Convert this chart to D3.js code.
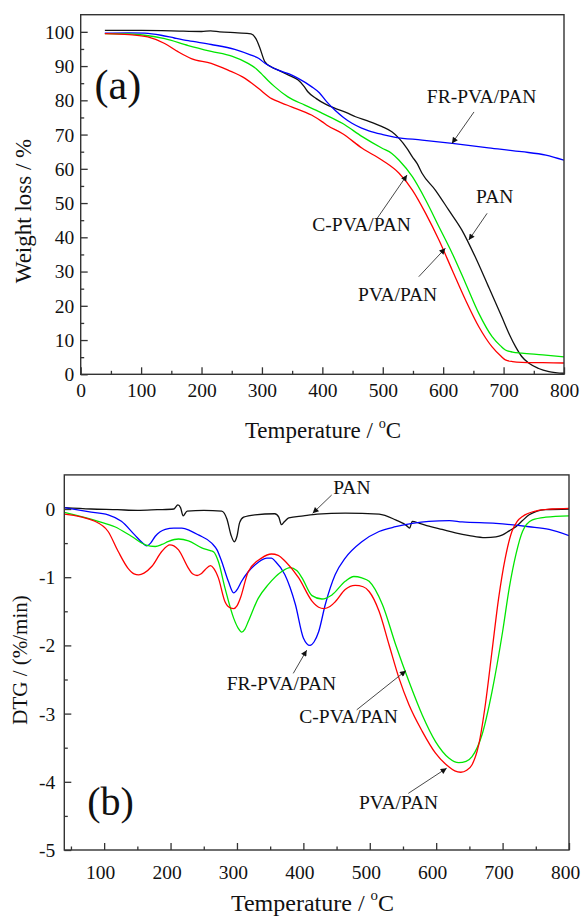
<!DOCTYPE html>
<html><head><meta charset="utf-8">
<script src="https://cdn.jsdelivr.net/npm/d3@7"></script>
<style>body{margin:0;background:#fff}svg{display:block}text{font-family:"Liberation Serif","Times New Roman",serif;fill:#111}</style>
</head><body><svg id="c" width="582" height="916"></svg>
<script>
// ---------- DATA ----------
// (a) TGA: [Temperature °C, Weight %]
const tgaPAN = [[40,100.4],[100,100.4],[150,100.3],[200,100.1],[215,100.3],[230,100],[260,99.7],[282,99.4],[290,98],[296,95.6],[305,91.2],[315,89.8],[327,88.8],[345,87.3],[360,85.9],[370,84],[376,82.5],[390,80.5],[406,78.8],[422,77.6],[440,76.4],[455,75.2],[475,74],[499,72.3],[515,70.8],[527,68.9],[540,66],[549,63.5],[557,61.5],[565,58.7],[587,53.8],[609,48],[631,42.1],[653,34.3],[675,25.6],[697,16.8],[710,11.5],[720,8],[730,5.2],[742,3.2],[758,1.7],[775,0.8],[800,0.3]];
const tgaFR = [[40,99.6],[80,99.7],[106,99.6],[133,99],[155,98.2],[178,97.4],[216,96.3],[255,94.9],[282,93.2],[295,92.2],[305,90.8],[327,88.8],[345,87.7],[360,86.4],[382,84],[395,82.2],[407,79.6],[421,77.1],[435,75],[449,73.3],[465,71.9],[477,71.1],[500,70],[521,69.2],[565,68.4],[615,67.4],[675,66.1],[730,65],[770,64],[800,62.5]];
const tgaC = [[40,99.5],[80,99.4],[106,99],[139,98],[178,96],[216,94.3],[250,92.9],[277,90.8],[290,89.3],[299,87.8],[310,85.8],[321,84],[343,81],[371,78.6],[400,76.2],[433,73.3],[466,69.4],[499,66],[515,64.5],[527,62.5],[549,57.7],[571,50.9],[593,43.1],[615,35.3],[637,26.6],[659,17.8],[681,11],[695,8.3],[703,7.1],[715,6.5],[730,6.2],[765,5.7],[800,5.1]];
const tgaPVA = [[40,99.5],[80,99.2],[111,98.5],[139,96.6],[161,94.2],[183,92.2],[216,90.8],[244,88.8],[272,86.4],[294,83.5],[316,80.5],[333,79.2],[349,78.1],[382,75.7],[400,73.7],[407,72.8],[433,70.3],[466,66],[499,62.5],[527,58.7],[549,53.8],[571,47],[593,39.2],[615,30.4],[637,21.7],[659,13.9],[681,8],[695,5.4],[703,4.2],[715,3.7],[730,3.5],[765,3.4],[800,3.3]];
// (b) DTG: [Temperature °C, DTG %/min]
const dtgPAN = [[40,0.02],[80,0],[120,-0.01],[150,-0.02],[180,-0.01],[205,0],[211,0.06],[215,0.02],[219,-0.1],[225,-0.03],[250,-0.02],[277,-0.03],[285,-0.15],[291,-0.38],[296,-0.48],[300,-0.4],[304,-0.2],[310,-0.12],[327,-0.085],[357,-0.07],[363,-0.12],[367,-0.23],[372,-0.18],[378,-0.13],[400,-0.1],[421,-0.075],[463,-0.06],[514,-0.075],[539,-0.16],[555,-0.24],[560,-0.28],[564,-0.18],[575,-0.21],[589,-0.25],[609,-0.3],[629,-0.35],[650,-0.39],[674,-0.42],[690,-0.41],[700,-0.38],[710,-0.32],[720,-0.26],[730,-0.17],[740,-0.085],[752,-0.03],[765,-0.01],[800,0]];
const dtgFR = [[40,0.02],[76,-0.04],[106,-0.085],[126,-0.18],[146,-0.38],[158,-0.5],[164,-0.54],[170,-0.5],[177,-0.4],[192,-0.3],[205,-0.28],[217,-0.28],[230,-0.32],[242,-0.38],[262,-0.5],[270,-0.6],[277,-0.77],[287,-1.06],[295,-1.23],[301,-1.17],[307,-1.06],[317,-0.92],[327,-0.82],[345,-0.72],[352,-0.72],[358,-0.77],[372,-0.96],[380,-1.15],[388,-1.4],[400,-1.89],[410,-2.0],[416,-1.95],[423,-1.8],[433,-1.4],[448,-0.96],[463,-0.72],[488,-0.48],[514,-0.33],[539,-0.26],[564,-0.21],[589,-0.18],[620,-0.17],[639,-0.19],[690,-0.21],[740,-0.26],[770,-0.3],[800,-0.39]];
const dtgPVA = [[40,-0.075],[86,-0.18],[106,-0.33],[121,-0.62],[136,-0.87],[145,-0.95],[152,-0.965],[160,-0.94],[172,-0.84],[187,-0.62],[199,-0.525],[205,-0.54],[212,-0.6],[227,-0.87],[233,-0.95],[240,-0.975],[246,-0.95],[252,-0.89],[260,-0.83],[265,-0.87],[272,-1.01],[282,-1.36],[290,-1.45],[295,-1.46],[300,-1.42],[305,-1.31],[317,-0.92],[337,-0.72],[352,-0.66],[362,-0.68],[373,-0.77],[393,-1.01],[413,-1.35],[423,-1.44],[431,-1.46],[440,-1.43],[448,-1.36],[463,-1.18],[478,-1.12],[490,-1.14],[499,-1.21],[514,-1.5],[529,-1.99],[544,-2.48],[559,-2.87],[579,-3.26],[599,-3.58],[619,-3.78],[628,-3.84],[637,-3.86],[646,-3.83],[654,-3.75],[664,-3.46],[674,-2.87],[684,-2.09],[694,-1.31],[704,-0.72],[714,-0.33],[722,-0.18],[730,-0.11],[750,-0.03],[775,0.0],[800,0.01]];
const dtgC = [[40,-0.05],[91,-0.18],[116,-0.26],[141,-0.4],[162,-0.525],[177,-0.55],[187,-0.52],[197,-0.475],[212,-0.44],[227,-0.466],[247,-0.57],[260,-0.61],[265,-0.63],[272,-0.77],[282,-1.16],[295,-1.6],[302,-1.75],[307,-1.805],[312,-1.76],[317,-1.65],[332,-1.31],[347,-1.11],[367,-0.92],[380,-0.86],[390,-0.9],[398,-1.01],[413,-1.27],[428,-1.32],[443,-1.26],[463,-1.06],[476,-0.99],[488,-1.01],[499,-1.06],[519,-1.4],[539,-1.99],[559,-2.53],[579,-3.02],[599,-3.41],[619,-3.65],[634,-3.72],[645,-3.7],[654,-3.63],[669,-3.31],[684,-2.68],[700,-1.8],[710,-1.16],[720,-0.67],[730,-0.33],[745,-0.16],[765,-0.12],[800,-0.1]];
// ticks / labels
const topXTicks = [0,100,200,300,400,500,600,700,800];
const topYTicks = [0,10,20,30,40,50,60,70,80,90,100];
const botXTicks = [100,200,300,400,500,600,700,800];
const botYTicks = [-5,-4,-3,-2,-1,0];
const botYLabels = ["-5","-4","-3","-2","-1","0"];
const seriesNames = ["PAN","FR-PVA/PAN","C-PVA/PAN","PVA/PAN"];
const seriesColors = ["#111111","#0000ff","#00e600","#ff0000"];
// annotations: [label, textT, textV, arrowFromT, arrowFromV, arrowToT, arrowToV]
const annTop = [["FR-PVA/PAN",573,79.3,651,76.6,614.5,67.4],["PAN",654.5,50.1,672.7,47,642.4,39.2],["C-PVA/PAN",383.4,41.9,490.6,45.5,540.2,58.2],["PVA/PAN",459.1,21.4,559.6,28.5,603.6,36.8]];
const annBot = [["PAN",445,0.22,442.6,0.205,414,-0.063],["FR-PVA/PAN",284.5,-2.65,384.8,-2.41,405,-2.07],["C-PVA/PAN",393.9,-3.14,480.3,-2.945,554.5,-2.37],["PVA/PAN",483.8,-4.40,558,-4.17,615.8,-3.80]];

// ---------- DRAW ----------
const svg = d3.select("#c");
const defs = svg.append("defs");
defs.append("marker").attr("id","ah").attr("viewBox","0 0 10 10").attr("refX",10).attr("refY",5)
  .attr("markerWidth",9).attr("markerHeight",6).attr("markerUnits","userSpaceOnUse").attr("orient","auto")
  .append("path").attr("d","M0,0L10,5L0,10z").attr("fill","#111");

function panel(cfg){
  const {x,y,xMajor,xMinor,yMajor,yMinor,yLabels,series,ann,tag,tagPos,xLabOff,xLabDx,yLabOff,xTitle,yTitle} = cfg;
  const g = svg.append("g");
  const [x0,x1]=x.range(), [y0,y1]=y.range();
  const line = d3.line().x(d=>x(d[0])).y(d=>y(d[1])).curve(d3.curveMonotoneX);
  const clipId = "clip"+tag.replace(/\W/g,"");
  defs.append("clipPath").attr("id",clipId).append("rect").attr("x",x0).attr("y",y1).attr("width",x1-x0).attr("height",y0-y1);
  series.forEach((s,i)=>{
    g.append("path").attr("d",line(s)).attr("fill","none").attr("stroke",seriesColors[i]).attr("stroke-width",1.3).attr("clip-path",`url(#${clipId})`);
  });
  // frame
  g.append("rect").attr("x",x0).attr("y",y1).attr("width",x1-x0).attr("height",y0-y1).attr("fill","none").attr("stroke","#333").attr("stroke-width",1.4);
  // axes with inward ticks
  const ax = g.append("g").attr("transform",`translate(0,${y0})`).call(d3.axisBottom(x).tickValues(xMajor).tickSize(-7).tickFormat(d=>d));
  ax.select(".domain").remove();
  ax.selectAll(".tick line").attr("stroke","#333").attr("stroke-width",1.3);
  ax.selectAll(".tick text").attr("font-size",19.5).attr("y",xLabOff).attr("dy",0).attr("dx",xLabDx).attr("font-family","Liberation Serif");
  const axm = g.append("g").attr("transform",`translate(0,${y0})`).call(d3.axisBottom(x).tickValues(xMinor).tickSize(-3.5).tickFormat(""));
  axm.select(".domain").remove(); axm.selectAll(".tick line").attr("stroke","#333").attr("stroke-width",1.3);
  const ay = g.append("g").attr("transform",`translate(${x0},0)`).call(d3.axisLeft(y).tickValues(yMajor).tickSize(-7).tickFormat((d,i)=>yLabels[i]));
  ay.select(".domain").remove();
  ay.selectAll(".tick line").attr("stroke","#333").attr("stroke-width",1.3);
  ay.selectAll(".tick text").attr("font-size",19.5).attr("x",-yLabOff).attr("dy","0.33em").attr("font-family","Liberation Serif");
  const aym = g.append("g").attr("transform",`translate(${x0},0)`).call(d3.axisLeft(y).tickValues(yMinor).tickSize(-3.5).tickFormat(""));
  aym.select(".domain").remove(); aym.selectAll(".tick line").attr("stroke","#333").attr("stroke-width",1.3);
  // annotations
  ann.forEach(a=>{
    g.append("text").attr("x",x(a[1])).attr("y",y(a[2])).attr("font-size",19.5).text(a[0]);
    g.append("line").attr("x1",x(a[3])).attr("y1",y(a[4])).attr("x2",x(a[5])).attr("y2",y(a[6]))
      .attr("stroke","#333").attr("stroke-width",0.9).attr("marker-end","url(#ah)");
  });
  g.append("text").attr("x",x(tagPos[0])).attr("y",y(tagPos[1])).attr("font-size",cfg.tagSize).text(tag);
  // titles
  const xt = g.append("text").attr("x",xTitle[0]).attr("y",xTitle[1]).attr("text-anchor","middle").attr("font-size",xTitle[2]);
  xt.append("tspan").text("Temperature / ");
  xt.append("tspan").attr("font-size",xTitle[2]*0.62).attr("dy",-xTitle[2]*0.45).text("o");
  xt.append("tspan").attr("dy",xTitle[2]*0.45).text("C");
  g.append("text").attr("transform",`translate(${yTitle[0]},${yTitle[1]}) rotate(-90)`).attr("text-anchor","middle").attr("font-size",yTitle[2]).text(yTitle[3]);
}

const xTop = d3.scaleLinear().domain([0,800]).range([80.7,564]);
const yTop = d3.scaleLinear().domain([0,105]).range([374.3,14.7]);
panel({x:xTop,y:yTop,xMajor:topXTicks,xMinor:d3.range(50,800,100),yMajor:topYTicks,yMinor:d3.range(5,105,10),
  yLabels:topYTicks.map(String),series:[tgaPAN,tgaFR,tgaC,tgaPVA],ann:annTop,tag:"(a)",tagPos:[23,80.3],tagSize:42,
  xLabOff:22.7,xLabDx:0,yLabOff:6.5,xTitle:[323,438,23],yTitle:[31,211,23,"Weight loss / %"]});

const xBot = d3.scaleLinear().domain([40,800]).range([64.3,569]);
const yBot = d3.scaleLinear().domain([-5,0.5]).range([850,474.9]);
panel({x:xBot,y:yBot,xMajor:botXTicks,xMinor:d3.range(50,800,100),yMajor:botYTicks,yMinor:d3.range(-4.5,0.5,1),
  yLabels:botYLabels,series:[dtgPAN,dtgFR,dtgC,dtgPVA],ann:annBot,tag:"(b)",tagPos:[74.6,-4.48],tagSize:40,
  xLabOff:29,xLabDx:-4,yLabOff:9,xTitle:[312.5,911,24],yTitle:[27,660,21,"DTG / (%/min)"]});
</script></body></html>
